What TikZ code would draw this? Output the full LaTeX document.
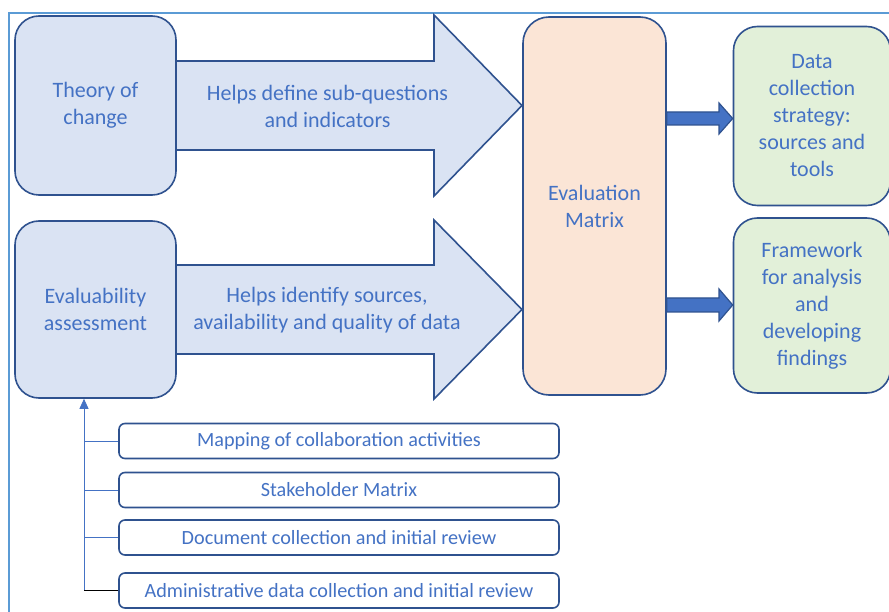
\documentclass[tikz,border=0pt]{standalone}
\usepackage{fontspec}
\setmainfont{Carlito}
\usetikzlibrary{calc,math}
\usetikzlibrary{positioning,arrows.meta}
\usepackage{xcolor}
\definecolor{edgeblue}{HTML}{2F528F}
\definecolor{textblue}{HTML}{4472C4}
\definecolor{frameblue}{HTML}{5B9BD5}
\definecolor{paleblue}{HTML}{DAE3F3}
\definecolor{paleorange}{HTML}{FBE5D6}
\definecolor{palegreen}{HTML}{E2F0D9}

\begin{document}
\begin{tikzpicture}[x=1pt, y=-1pt, font=\fontsize{22}{27}\selectfont, text=textblue,
  bigbox/.style={draw=edgeblue, line width=1.6pt, rounded corners=24pt, align=center, inner sep=0pt},
  stepbox/.style={draw=edgeblue, line width=1.6pt, rounded corners=6pt, fill=white,
    minimum width=440pt, minimum height=35pt, inner sep=0pt, font=\fontsize{20.2}{24}\selectfont},
  fatarrow/.style={draw=edgeblue, line width=1.6pt, fill=paleblue, line join=miter},
  thinarrow/.style={draw=edgeblue, line width=1.2pt, fill=textblue},
  conn/.style={draw=textblue, line width=0.8pt}]

\useasboundingbox (0,0) rectangle (889,612);
\clip (0,0) rectangle (889,612);

%outer frame, only top and left show
\draw[frameblue, line width=1.4pt] (9,612) -- (9,13) -- (889,13);

%two wide arrows into the matrix
\draw[fatarrow] (170,61) -- (434,61) -- (434,15) -- (522,105.5) -- (434,196) -- (434,150) -- (170,150) -- cycle;
\draw[fatarrow] (170,265) -- (434,265) -- (434,220) -- (522,309.5) -- (434,399) -- (434,354) -- (170,354) -- cycle;

%boxes on the left
\node[bigbox, fill=paleblue, minimum width=161pt, minimum height=179pt] (toc) at (95.5,105.5) {Theory of\\change};
\node[bigbox, fill=paleblue, minimum width=161pt, minimum height=177pt] (eva) at (95.5,309.5) {Evaluability\\assessment};

%texts on the wide arrows
\node[align=center] (def) at (327.5,106) {Helps define sub-questions\\and indicators};
\node[align=center] (idf) at (327,310) {Helps identify sources,\\availability and quality of data};

%evaluation matrix
\node[bigbox, fill=paleorange, rounded corners=26pt, minimum width=143pt, minimum height=378pt] (mtx) at (594.5,206) {Evaluation\\Matrix};

%outputs on the right
\node[bigbox, fill=palegreen, minimum width=157pt, minimum height=179pt] (dcs) at (812,116) {Data\\collection\\strategy:\\sources and\\tools};
\node[bigbox, fill=palegreen, minimum width=157pt, minimum height=175pt] (fad) at (812,305.5) {Framework\\for analysis\\and\\developing\\findings};

%short thick arrows
\draw[thinarrow] (mtx.east |- 0,112) -- (719,112) -- (719,103) -- (dcs.west |- 0,118.5) -- (719,134) -- (719,125) -- (mtx.east |- 0,125) -- cycle;
\draw[thinarrow] (mtx.east |- 0,298) -- (719,298) -- (719,289) -- (fad.west |- 0,305) -- (719,321) -- (719,312) -- (mtx.east |- 0,312) -- cycle;

%four steps feeding the assessment
\foreach \k/\yy/\txt in {1/441/Mapping of collaboration activities,
                         2/490/Stakeholder Matrix,
                         3/537.5/Document collection and initial review,
                         4/590.5/Administrative data collection and initial review} {
    \node[stepbox] (m\k) at (339,\yy) {\txt};
}

\coordinate (spine) at (84,0);
\draw[conn, -{Triangle[length=10pt,width=9pt]}] (m4.west -| spine) -- (eva.south -| spine);
\foreach \k in {1,2,3} {
    \draw[conn] (m\k.west) -- (m\k.west -| spine);
}
\draw[black, line width=0.8pt] (m4.west) -- (m4.west -| spine); %the last one is black

\end{tikzpicture}
\end{document}
